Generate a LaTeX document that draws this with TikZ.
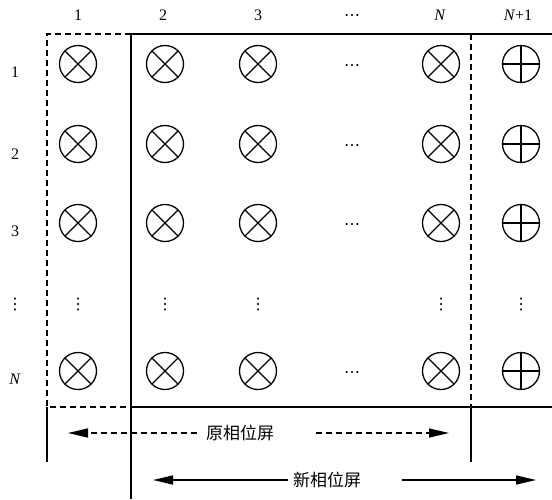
\documentclass[tikz,border=0pt]{standalone}
\usepackage{fontspec}
\setmainfont{Liberation Serif}
\newfontfamily\cjk{Noto Sans CJK SC}
\newfontfamily\symf{DejaVu Sans}
\usetikzlibrary{arrows.meta}
\tikzset{
  line/.style={line width=1.3pt},
  dline/.style={line width=1.3pt, dash pattern=on 6pt off 4pt},
  xcell/.style={circle, draw, line width=1.3pt, minimum size=37pt, inner sep=0pt,
    path picture={\draw[line width=1.3pt] (path picture bounding box.north west) -- (path picture bounding box.south east)
      (path picture bounding box.north east) -- (path picture bounding box.south west);}},
  pcell/.style={circle, draw, line width=1.3pt, minimum size=37pt, inner sep=0pt,
    path picture={\draw[line width=1.3pt] (path picture bounding box.north) -- (path picture bounding box.south)
      (path picture bounding box.east) -- (path picture bounding box.west);}},
  lab/.style={font=\fontsize{16}{18}\selectfont, inner sep=0pt},
  dots/.style={font=\symf\fontsize{16}{18}\selectfont, inner sep=0pt},
  cn/.style={font=\cjk\fontsize{17}{19}\selectfont, inner sep=2pt},
  tip/.style={-{Triangle[length=20pt,width=9pt]}},
}
\begin{document}
\begin{tikzpicture}[x=1pt,y=-1pt]
\useasboundingbox (0,0) rectangle (552,499);
% column headers
\node[lab] (h1) at (78,15) {1};
\node[lab] (h2) at (163,15) {2};
\node[lab] (h3) at (258,15) {3};
\node[dots] (hd) at (352,18) {⋯};
\node[lab] (hN) at (440,15) {\textit{N}};
\node[lab] (hN1) at (518,15) {\textit{N}+1};
% row labels
\node[lab] (r1) at (15,72) {1};
\node[lab] (r2) at (15,154) {2};
\node[lab] (r3) at (15,231) {3};
\node[dots] (rd) at (15,305) {⋮};
\node[lab] (rN) at (15,379) {\textit{N}};
% cells
\foreach \y/\r in {64/1,144/2,223/3,371/4}{
  \node[xcell] (c1-\r) at (78,\y) {};
  \node[xcell] (c2-\r) at (165,\y) {};
  \node[xcell] (c3-\r) at (258,\y) {};
  \node[dots] (cd-\r) at (352,\y+4) {⋯};
  \node[xcell] (cN-\r) at (441,\y) {};
  \node[pcell] (cP-\r) at (521,\y) {};
}
\foreach \x/\c in {78/1,165/2,258/3,441/N,521/P}{
  \node[dots] (v\c) at (\x,305) {⋮};
}
% frame coordinates
\coordinate (tl) at (47,34);
\coordinate (tm) at (131,34);
\coordinate (tn) at (471,34);
\coordinate (tr) at (552,34);
\coordinate (bl) at (47,407);
\coordinate (bm) at (131,407);
\coordinate (bn) at (471,407);
\coordinate (br) at (552,407);
\coordinate (ll) at (47,462);
\coordinate (nl) at (471,462);
\coordinate (ml) at (131,499);
% frames
\draw[dline] (tm) -- (tl) -- (bl) -- (bm);
\draw[dline] (tn) -- (bn);
\draw[line] (tm) -- (tr);
\draw[line] (bm) -- (br);
\draw[line] (tm) -- (ml);
\draw[line] (bl) -- (ll);
\draw[line] (bn) -- (nl);
% arrows
\node[cn] (old) at (240,433) {原相位屏};
\coordinate (oldL) at (68,433);
\coordinate (oldR) at (449,433);
\coordinate (oldLs) at (197,433);
\coordinate (oldRs) at (316,433);
\draw[dline,tip] (oldLs) -- (oldL);
\draw[dline,tip] (oldRs) -- (oldR);
\node[cn] (new) at (327,480) {新相位屏};
\coordinate (newL) at (153,480);
\coordinate (newR) at (536,480);
\coordinate (newLs) at (288,480);
\coordinate (newRs) at (402,480);
\draw[line,tip] (newLs) -- (newL);
\draw[line,tip] (newRs) -- (newR);
\end{tikzpicture}
\end{document}
